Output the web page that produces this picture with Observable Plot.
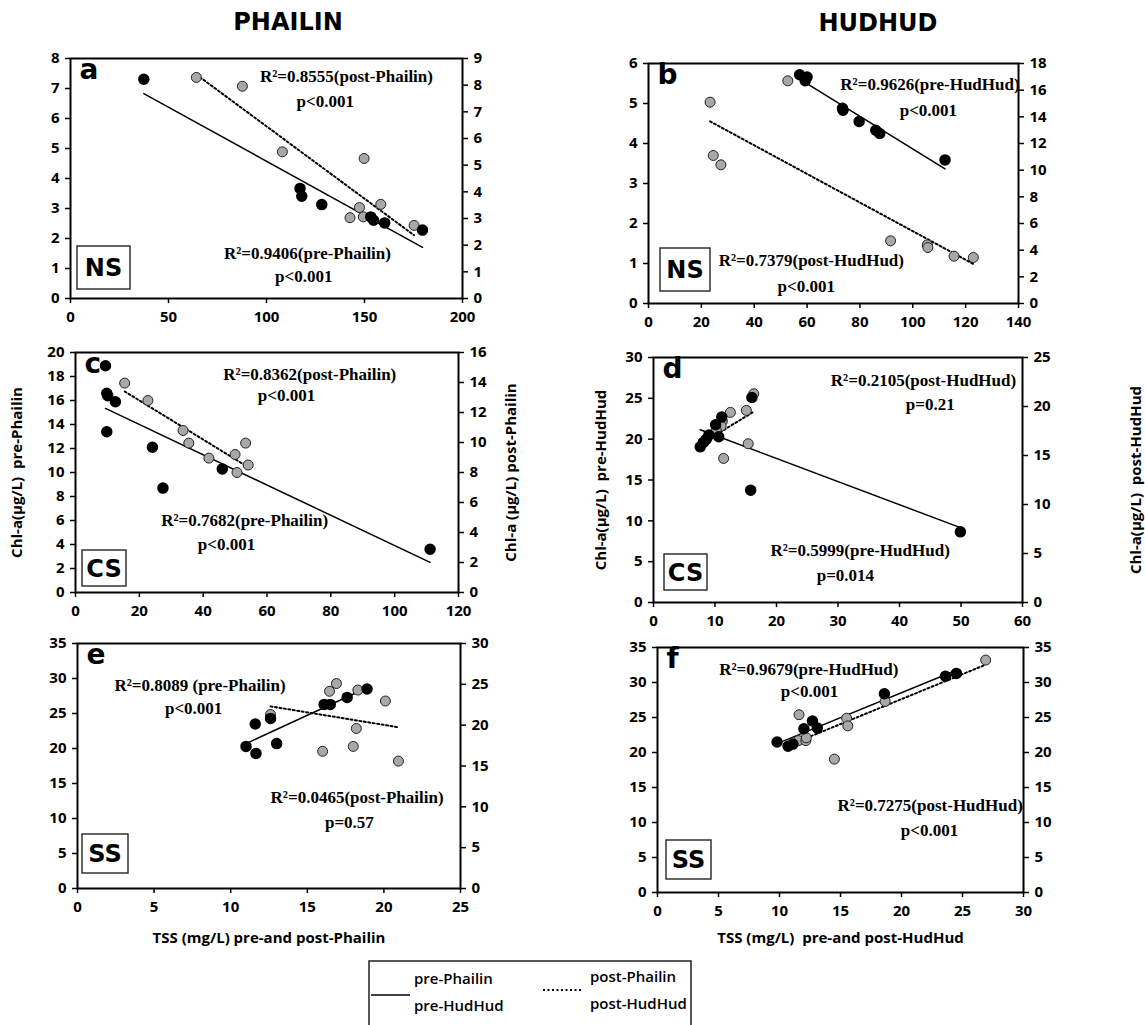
<!DOCTYPE html>
<html><head><meta charset="utf-8">
<script src="https://cdn.jsdelivr.net/npm/d3@7"></script>
<script src="https://cdn.jsdelivr.net/npm/@observablehq/plot@0.6"></script>
<style>
body{margin:0;background:#fff;}
#page{position:relative;width:1145px;height:1025px;overflow:hidden;background:#fff;}
.title{position:absolute;font-family:"DejaVu Sans",sans-serif;font-weight:bold;font-size:24px;transform:translate(-50%,-50%);white-space:nowrap;}
.cell{position:absolute;}
</style></head><body><div id="page"></div>
<script>
// ---------- DATA ----------
// Panel a: PHAILIN, NS
const aPreTSS  = [37.4, 117.1, 118.0, 128.2, 153.2, 154.6, 160.3, 179.6];
const aPreChl  = [7.31, 3.67, 3.41, 3.13, 2.72, 2.61, 2.52, 2.28];
const aPostTSS = [64.2, 87.7, 108.1, 149.8, 147.4, 158.3, 142.6, 149.4, 175.3];
const aPostChl = [8.29, 7.96, 5.50, 5.25, 3.41, 3.53, 3.03, 3.06, 2.74];
// Panel b: HUDHUD, NS
const bPreTSS  = [57.2, 59.3, 60.0, 73.4, 73.6, 79.7, 86.0, 87.5, 112.2];
const bPreChl  = [5.72, 5.57, 5.66, 4.88, 4.83, 4.55, 4.33, 4.25, 3.59];
const bPostTSS = [23.3, 24.5, 27.4, 52.7, 91.6, 105.5, 105.7, 115.6, 122.9];
const bPostChl = [15.1, 11.1, 10.4, 16.7, 4.7, 4.4, 4.2, 3.55, 3.45];
// Panel c: PHAILIN, CS
const cPreTSS  = [9.4, 9.8, 10.1, 12.5, 9.8, 24.1, 27.4, 46.0, 111.1];
const cPreChl  = [18.9, 16.6, 16.4, 15.9, 13.4, 12.1, 8.7, 10.3, 3.6];
const cPostTSS = [15.4, 22.7, 33.7, 35.5, 41.8, 50.0, 53.3, 54.1, 50.6];
const cPostChl = [13.96, 12.8, 10.8, 9.96, 8.96, 9.2, 9.96, 8.5, 8.0];
// Panel d: HUDHUD, CS
const dPreTSS  = [7.6, 8.1, 8.6, 9.0, 10.1, 11.1, 10.6, 16.0, 15.8, 49.9];
const dPreChl  = [19.06, 19.6, 20.0, 20.5, 21.76, 22.7, 20.3, 25.1, 13.76, 8.65];
const dPostTSS = [12.5, 16.3, 15.1, 11.2, 11.0, 10.2, 15.4, 11.4];
const dPostChl = [19.4, 21.3, 19.6, 18.5, 18.0, 17.6, 16.2, 14.7];
// Panel e: PHAILIN, SS
const ePreTSS  = [11.0, 11.6, 11.65, 12.6, 13.0, 16.1, 16.5, 17.6, 18.9];
const ePreChl  = [20.3, 23.5, 19.3, 24.3, 20.7, 26.3, 26.3, 27.3, 28.5];
const ePostTSS = [12.6, 16.45, 16.9, 18.3, 20.1, 18.2, 18.0, 16.0, 20.95];
const ePostChl = [21.3, 24.15, 25.1, 24.3, 22.96, 19.6, 17.4, 16.8, 15.6];
// Panel f: HUDHUD, SS
const fPreTSS  = [9.8, 10.7, 11.1, 12.0, 12.7, 13.1, 18.6, 23.6, 24.5];
const fPreChl  = [21.5, 20.9, 21.2, 23.4, 24.5, 23.5, 28.4, 30.9, 31.3];
const fPostTSS = [11.6, 11.55, 12.16, 12.2, 14.5, 15.5, 15.6, 18.66, 26.9];
const fPostChl = [25.4, 21.7, 21.7, 22.1, 19.05, 24.9, 23.8, 27.3, 33.2];

// Tick labels
const aXTicks = [0, 50, 100, 150, 200];
const aLeftTicks = [0, 1, 2, 3, 4, 5, 6, 7, 8];
const aRightTicks = [0, 1, 2, 3, 4, 5, 6, 7, 8, 9];
const bXTicks = [0, 20, 40, 60, 80, 100, 120, 140];
const bLeftTicks = [0, 1, 2, 3, 4, 5, 6];
const bRightTicks = [0, 2, 4, 6, 8, 10, 12, 14, 16, 18];
const cXTicks = [0, 20, 40, 60, 80, 100, 120];
const cLeftTicks = [0, 2, 4, 6, 8, 10, 12, 14, 16, 18, 20];
const cRightTicks = [0, 2, 4, 6, 8, 10, 12, 14, 16];
const dXTicks = [0, 10, 20, 30, 40, 50, 60];
const dLeftTicks = [0, 5, 10, 15, 20, 25, 30];
const dRightTicks = [0, 5, 10, 15, 20, 25];
const eXTicks = [0, 5, 10, 15, 20, 25];
const eLeftTicks = [0, 5, 10, 15, 20, 25, 30, 35];
const eRightTicks = [0, 5, 10, 15, 20, 25, 30];
const fXTicks = [0, 5, 10, 15, 20, 25, 30];
const fLeftTicks = [0, 5, 10, 15, 20, 25, 30, 35];
const fRightTicks = [0, 5, 10, 15, 20, 25, 30, 35];

// Texts
const columnTitles = ["PHAILIN", "HUDHUD"];
const panelLetters = ["a", "b", "c", "d", "e", "f"];
const stations = ["NS", "NS", "CS", "CS", "SS", "SS"];
const aNotes = ["R²=0.8555(post-Phailin)", "p<0.001", "R²=0.9406(pre-Phailin)", "p<0.001"];
const bNotes = ["R²=0.9626(pre-HudHud)", "p<0.001", "R²=0.7379(post-HudHud)", "p<0.001"];
const cNotes = ["R²=0.8362(post-Phailin)", "p<0.001", "R²=0.7682(pre-Phailin)", "p<0.001"];
const dNotes = ["R²=0.2105(post-HudHud)", "p=0.21", "R²=0.5999(pre-HudHud)", "p=0.014"];
const eNotes = ["R²=0.8089 (pre-Phailin)", "p<0.001", "R²=0.0465(post-Phailin)", "p=0.57"];
const fNotes = ["R²=0.9679(pre-HudHud)", "p<0.001", "R²=0.7275(post-HudHud)", "p<0.001"];
const legendLabels = [["pre-Phailin", "pre-HudHud"], ["post-Phailin", "post-HudHud"]];

// ---------- LAYOUT ----------
const panels = [
  {pre:[aPreTSS,aPreChl], post:[aPostTSS,aPostChl], xDomain:[0,200], xTicks:aXTicks, leftMax:8, leftTicks:aLeftTicks, rightMax:9, rightTicks:aRightTicks,
   cell:{x:0,y:30,w:570,h:305}, frame:{l:70,r:462,t:58,b:298}, notes:aNotes, notePos:[[140.8,7.39],[130,6.56],[120.9,1.5],[119,0.74]], box:{dx:7,dy:9,w:53,h:43}},
  {pre:[bPreTSS,bPreChl], post:[bPostTSS,bPostChl], xDomain:[0,140], xTicks:bXTicks, leftMax:6, leftTicks:bLeftTicks, rightMax:18, rightTicks:bRightTicks,
   cell:{x:570,y:30,w:575,h:305}, frame:{l:648,r:1018,t:63,b:303}, notes:bNotes, notePos:[[106.5,5.48],[105.9,4.83],[61.6,1.07],[59.7,0.42]], box:{dx:12,dy:12,w:50,h:43}},
  {pre:[cPreTSS,cPreChl], post:[cPostTSS,cPostChl], xDomain:[0,120], xTicks:cXTicks, leftMax:20, leftTicks:cLeftTicks, rightMax:16, rightTicks:cRightTicks,
   cell:{x:0,y:335,w:570,h:285}, frame:{l:75,r:458,t:352,b:592}, notes:cNotes, notePos:[[73.4,18.2],[66.1,16.4],[53.0,5.97],[47.3,4.03]], box:{dx:7,dy:6,w:44,h:36},
   leftLabel:"Chl-a(µg/L)  pre-Phailin", leftOffset:64, rightLabel:"Chl-a (µg/L) post-Phailin", rightOffset:57},
  {pre:[dPreTSS,dPreChl], post:[dPostTSS,dPostChl], xDomain:[0,60], xTicks:dXTicks, leftMax:30, leftTicks:dLeftTicks, rightMax:25, rightTicks:dRightTicks,
   cell:{x:570,y:335,w:575,h:285}, frame:{l:653,r:1022,t:357,b:602}, notes:dNotes, notePos:[[43.9,27.2],[45.0,24.3],[33.6,6.4],[31.2,3.27]], box:{dx:11,dy:12,w:43,h:36},
   leftLabel:"Chl-a(µg/L)  pre-HudHud", leftOffset:58, rightLabel:"Chl-a(µg/L)  post-HudHud", rightOffset:118},
  {pre:[ePreTSS,ePreChl], post:[ePostTSS,ePostChl], xDomain:[0,25], xTicks:eXTicks, leftMax:35, leftTicks:eLeftTicks, rightMax:30, rightTicks:eRightTicks,
   cell:{x:0,y:620,w:570,h:330}, frame:{l:77,r:460,t:643,b:888}, notes:eNotes, notePos:[[8.0,29.0],[7.58,25.7],[18.25,12.94],[17.75,9.46]], box:{dx:5,dy:15,w:46,h:39},
   xLabel:"TSS (mg/L) pre-and post-Phailin", xOffset:54},
  {pre:[fPreTSS,fPreChl], post:[fPostTSS,fPostChl], xDomain:[0,30], xTicks:fXTicks, leftMax:35, leftTicks:fLeftTicks, rightMax:35, rightTicks:fRightTicks,
   cell:{x:570,y:620,w:575,h:330}, frame:{l:657,r:1023,t:647,b:892}, notes:fNotes, notePos:[[12.4,31.9],[12.46,28.7],[22.35,12.46],[22.3,8.83]], box:{dx:9,dy:13,w:45,h:39},
   xLabel:"TSS (mg/L)  pre-and post-HudHud", xOffset:50}
];

const page = document.getElementById("page");
const tickFont = {fontFamily:"Open Sans", fontSize:15, fontWeight:700};

function stationBox(label, box) {
  return (index, scales, values, dim) => {
    const g = d3.create("svg:g");
    const x0 = dim.marginLeft + box.dx;
    const y1 = dim.height - dim.marginBottom - box.dy;
    g.append("rect").attr("x", x0).attr("y", y1 - box.h).attr("width", box.w).attr("height", box.h)
      .attr("fill", "white").attr("stroke", "#333").attr("stroke-width", 1.5);
    g.append("text").attr("x", x0 + box.w / 2).attr("y", y1 - box.h / 2).attr("dy", "0.36em")
      .attr("text-anchor", "middle").attr("font-family", "DejaVu Sans").attr("font-weight", "bold")
      .attr("font-size", 24).attr("fill", "black").text(label);
    return g.node();
  };
}

panels.forEach((p, i) => {
  const k = p.leftMax / p.rightMax;
  const preRows = p.pre[0].map((x, j) => ({x, y: p.pre[1][j]}));
  const postRows = p.post[0].map((x, j) => ({x, y: p.post[1][j] * k}));
  const noteRows = p.notes.map((t, j) => ({t, x: p.notePos[j][0], y: p.notePos[j][1]}));
  const c = p.cell, f = p.frame;
  const chart = Plot.plot({
    width: c.w, height: c.h,
    marginLeft: f.l - c.x, marginRight: c.x + c.w - f.r,
    marginTop: f.t - c.y, marginBottom: c.y + c.h - f.b,
    x: {domain: p.xDomain, label: null},
    y: {domain: [0, p.leftMax], label: null},
    style: {background: "transparent", overflow: "visible", color: "black"},
    marks: [
      Plot.axisX(p.xTicks, {anchor: "bottom", tickSize: 5, tickPadding: 8, strokeWidth: 1.5, ...tickFont,
        label: p.xLabel ?? null, labelAnchor: "center", labelOffset: p.xOffset ?? 0, labelArrow: "none"}),
      Plot.axisY(p.leftTicks, {anchor: "left", tickSize: 5, tickPadding: 6, strokeWidth: 1.5, ...tickFont,
        label: p.leftLabel ?? null, labelAnchor: "center", labelOffset: p.leftOffset ?? 0, labelArrow: "none"}),
      Plot.axisY(p.rightTicks.map(t => t * k), {anchor: "right", tickSize: 5, tickPadding: 6, strokeWidth: 1.5, ...tickFont,
        tickFormat: d => String(+(d / k).toFixed(3)),
        label: p.rightLabel ?? null, labelAnchor: "center", labelOffset: p.rightOffset ?? 0, labelArrow: "none"}),
      Plot.frame({stroke: "black", strokeWidth: 2}),
      Plot.linearRegressionY(preRows, {x: "x", y: "y", ci: 0, stroke: "black", strokeWidth: 1.5}),
      Plot.linearRegressionY(postRows, {x: "x", y: "y", ci: 0, stroke: "black", strokeWidth: 2, strokeDasharray: "2,2.5"}),
      Plot.dot(postRows, {x: "x", y: "y", r: 5, fill: "#a8a8a8", stroke: "#222", strokeWidth: 1}),
      Plot.dot(preRows, {x: "x", y: "y", r: 5, fill: "black", stroke: "black"}),
      Plot.text(noteRows, {x: "x", y: "y", text: "t", fontFamily: "Liberation Serif", fontWeight: "bold", fontSize: 17, fill: "black"}),
      Plot.text([panelLetters[i]], {frameAnchor: "top-left", dx: 9, dy: 1, fontFamily: "DejaVu Sans", fontWeight: "bold", fontSize: 28, fill: "black"}),
      stationBox(stations[i], p.box)
    ]
  });
  const div = document.createElement("div");
  div.className = "cell";
  div.style.left = c.x + "px"; div.style.top = c.y + "px";
  div.appendChild(chart);
  page.appendChild(div);
});

// Column titles
[[288, 22], [878, 23]].forEach((pos, i) => {
  const t = document.createElement("div");
  t.className = "title";
  t.style.left = pos[0] + "px"; t.style.top = pos[1] + "px";
  t.textContent = columnTitles[i];
  page.appendChild(t);
});

// Legend
const lg = d3.create("svg").attr("width", 330).attr("height", 70)
  .style("position", "absolute").style("left", "368px").style("top", "960px").style("overflow", "visible");
lg.append("rect").attr("x", 1).attr("y", 1).attr("width", 322).attr("height", 90).attr("fill", "white").attr("stroke", "#222").attr("stroke-width", 1.5);
lg.append("line").attr("x1", 3).attr("x2", 42).attr("y1", 35).attr("y2", 35).attr("stroke", "black").attr("stroke-width", 1.5);
lg.append("line").attr("x1", 175).attr("x2", 214).attr("y1", 30).attr("y2", 30).attr("stroke", "black").attr("stroke-width", 2).attr("stroke-dasharray", "2,2.5");
[[46, 0], [222, 1]].forEach(([x, s]) => {
  legendLabels[s].forEach((t, j) => {
    lg.append("text").attr("x", x).attr("y", (s ? 17 : 19) + j * 27).attr("dy", "0.36em")
      .attr("font-family", "Open Sans").attr("font-weight", 600).attr("font-size", 15).attr("fill", "black").text(t);
  });
});
page.appendChild(lg.node());
</script>
</body></html>
